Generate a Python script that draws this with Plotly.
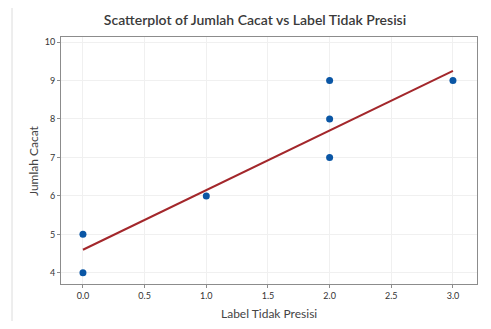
import plotly.graph_objects as go

# Data
label_tidak_presisi = [0, 0, 1, 2, 2, 2, 3]
jumlah_cacat = [4, 5, 6, 7, 8, 9, 9]
fit_x = [0, 3]
fit_y = [4.6, 9.25]
x_ticks = [0.0, 0.5, 1.0, 1.5, 2.0, 2.5, 3.0]
x_tick_text = ["0.0", "0.5", "1.0", "1.5", "2.0", "2.5", "3.0"]
y_ticks = [4, 5, 6, 7, 8, 9, 10]

FONT = "Lato"

fig = go.Figure()
fig.add_trace(go.Scatter(x=fit_x, y=fit_y, mode="lines",
                         line=dict(color="#A3272B", width=2), hoverinfo="skip"))
fig.add_trace(go.Scatter(x=label_tidak_presisi, y=jumlah_cacat, mode="markers",
                         marker=dict(color="#0A56A5", size=7)))

# page body has an 8px default margin; figure sized to fit inside 491x329
OFF = 8
W, H = 491 - 2 * OFF, 329 - 2 * OFF
L, R, T, B = 61 - OFF, W - (477 - OFF), 37 - OFF, H - (284 - OFF)
pw, ph = W - L - R, H - T - B
fx = lambda px: (px - OFF - L) / pw          # page x -> paper x
fy = lambda py: (H - (py - OFF) - B) / ph     # page y -> paper y

fig.update_layout(
    width=W, height=H,
    margin=dict(l=L, r=R, t=T, b=B, autoexpand=False),
    paper_bgcolor="white", plot_bgcolor="white",
    showlegend=False,
    font=dict(family=FONT, color="#333333"),
    title=dict(text="Scatterplot of Jumlah Cacat vs Label Tidak Presisi",
               x=(255 - OFF) / W, xanchor="center", y=1 - (20 - OFF) / H, yanchor="middle",
               font=dict(size=14, family=FONT, color="#3a3a3a", weight=600)),
    xaxis=dict(range=[-0.178, 3.195], tickvals=x_ticks, ticktext=x_tick_text,
               automargin=False,
               showgrid=True, gridcolor="#f0f0f0", gridwidth=1,
               showline=True, linecolor="#8c8c8c", linewidth=1, mirror=True,
               ticks="outside", ticklen=3, tickcolor="#8c8c8c",
               tickfont=dict(size=9, color="#333333"), zeroline=False),
    yaxis=dict(range=[3.71, 10.13], tickvals=y_ticks,
               automargin=False,
               showgrid=True, gridcolor="#f0f0f0", gridwidth=1,
               showline=True, linecolor="#8c8c8c", linewidth=1, mirror=True,
               ticks="outside", ticklen=3, tickcolor="#8c8c8c",
               tickfont=dict(size=9, color="#333333"), zeroline=False),
    annotations=[
        dict(text="Label Tidak Presisi", xref="paper", yref="paper",
             x=fx(269), y=fy(313), xanchor="center", yanchor="middle",
             showarrow=False, font=dict(size=12, color="#444444")),
        dict(text="Jumlah Cacat", xref="paper", yref="paper",
             x=fx(33), y=fy(161), xanchor="center", yanchor="middle",
             textangle=-90, showarrow=False, font=dict(size=12, color="#444444")),
    ],
    shapes=[
        dict(type="line", xref="paper", yref="paper",
             x0=fx(12), x1=fx(12), y0=fy(329), y1=fy(5),
             line=dict(color="#dcdcdc", width=1)),
    ],
)

fig.write_html("out.html")
